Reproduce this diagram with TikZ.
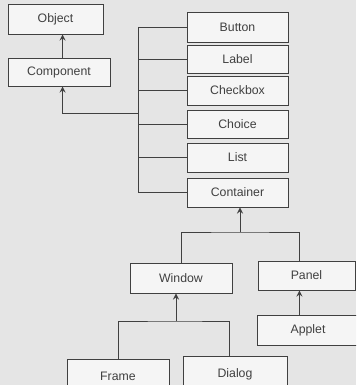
\documentclass[tikz,border=0pt]{standalone}
\usepackage{fontspec}
\setmainfont{Liberation Sans}
\usetikzlibrary{positioning}
\tikzset{->, % edges point up to the parent class
>=stealth, % small filled arrow heads
x=0.02cm, y=-0.02cm, % one unit is one pixel of the scan
cls/.style={rectangle, draw=black!75, fill=gray!8, inner sep=0pt, text=black!75,
  font=\fontsize{7}{8}\selectfont, minimum height=0.58cm}, % a class box
wide/.style={minimum width=2.04cm}, % width of most boxes
}

\begin{document}
\begin{tikzpicture}[line width=0.55pt, color=black!75]
\useasboundingbox (0,0) rectangle (356,385);
\clip (0,0) rectangle (356,385);
\fill[gray!20] (0,0) rectangle (356,385);
% left side
\node[cls, minimum width=1.9cm, minimum height=0.6cm] (object) at (55.5,19) {Object};
\node[cls, wide, minimum height=0.56cm] (component) at (59,72) {Component};
% the column of components
\node[cls, minimum width=2.02cm, minimum height=0.6cm] (button) at (237.5,27) {Button};
\node[cls, minimum width=2.02cm, minimum height=0.56cm] (label) at (237.5,59) {Label};
\node[cls, minimum width=2.02cm] (checkbox) at (237.5,90.5) {Checkbox};
\node[cls, minimum width=2.02cm, minimum height=0.56cm] (choice) at (237.5,124) {Choice};
\node[cls, minimum width=2.02cm] (list) at (237.5,157.5) {List};
\node[cls, minimum width=2.02cm] (container) at (237.5,192.5) {Container};
% containers
\node[cls, wide, minimum height=0.6cm] (window) at (181,278) {Window};
\node[cls, minimum width=1.94cm] (panel) at (306.5,275.5) {Panel};
\node[cls, minimum width=2.04cm, minimum height=0.6cm] (applet) at (308,330) {Applet};
\node[cls, wide, minimum height=1.1cm] (frame) at (118,387) {\raisebox{0.42cm}{Frame}};
\node[cls, minimum width=2.08cm, minimum height=1.1cm] (dialog) at (235,384) {\raisebox{0.42cm}{Dialog}};
% joints of the tree
\coordinate (bus) at (138,0);
\coordinate (j1) at (138,113);
\coordinate (j2) at (240,232);
\coordinate (j3) at (176,321);
\draw[-] (button.west -| bus) -- (container.west -| bus);
\foreach \c in {button,label,checkbox,choice,list,container}
  \draw[-] (\c.west) -- (\c.west -| bus);
\draw (j1) -| ([xshift=2pt]component.south);
\draw ([xshift=2pt]component.north) -- ([xshift=2pt]component.north |- object.south);
\draw (j2) -- (j2 |- container.south);
\draw[-] (window.north) |- (j2) -| ([xshift=-4]panel.north);
\draw (j3) -- (window.south -| j3);
\draw[-] (frame.north) |- (j3) -| ([xshift=-3]dialog.north);
\draw ([xshift=-4]applet.north -| panel.south) -- ([xshift=-4]panel.south);
\end{tikzpicture}
\end{document}
